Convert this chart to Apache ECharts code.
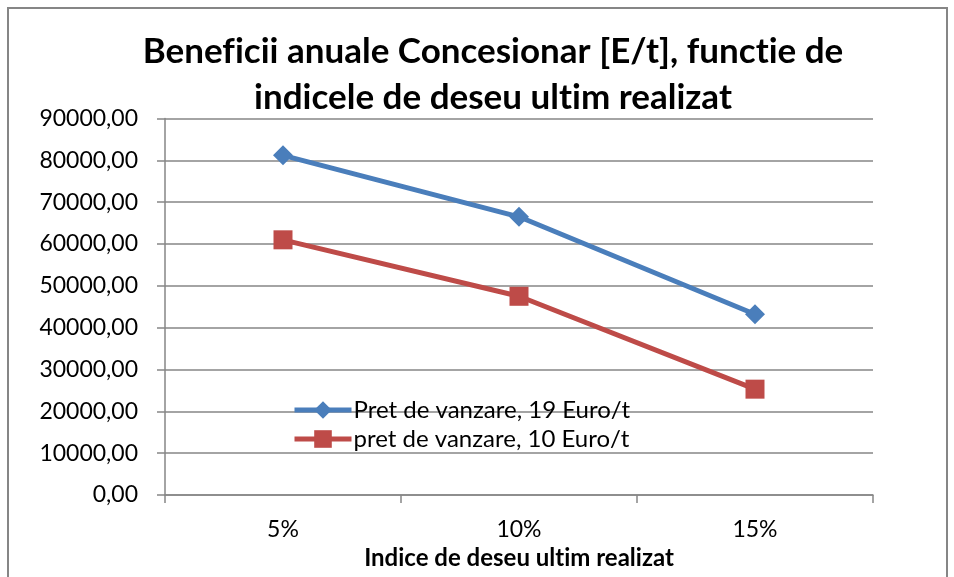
<!DOCTYPE html>
<html>
<head>
<meta charset="utf-8">
<script src="https://cdn.jsdelivr.net/npm/echarts@6/dist/echarts.min.js"></script>
<style>
  html, body { margin: 0; padding: 0; background: #ffffff; }
  #chart { width: 954px; height: 577px; }
</style>
</head>
<body>
<div id="chart"></div>
<script>
// Date
var categorii = ['5%', '10%', '15%'];
var numeSerii = ['Pret de vanzare, 19 Euro/t', 'pret de vanzare, 10 Euro/t'];
var pret19 = [81200, 66500, 43200];
var pret10 = [61000, 47500, 25300];

var FONT = 'Lato';
var GRI = '#868686';

function formatVirgula(v) {
    return v.toFixed(2).replace('.', ',');
}

var myChart = echarts.init(document.getElementById('chart'));

// \u200C evita ligaturile fi / ti din Lato
var titlu = 'Benef\u200Cicii anuale Concesionar [E/t], funct\u200Cie de\nindicele de deseu ult\u200Cim realizat';

var option = {
    animation: false,
    backgroundColor: '#ffffff',
    title: {
        text: titlu,
        left: 488,
        top: 24,
        textAlign: 'center',
        textStyle: {
            fontFamily: FONT,
            fontSize: 35,
            fontWeight: 'bold',
            color: '#000000',
            lineHeight: 46
        }
    },
    graphic: [{
        type: 'rect',
        shape: { x: 8, y: 8, width: 939, height: 620 },
        style: { fill: 'none', stroke: GRI, lineWidth: 2 },
        silent: true
    }],
    legend: {
        orient: 'vertical',
        left: 292,
        top: 398,
        padding: 0,
        itemWidth: 57,
        itemHeight: 22,
        itemGap: 5,
        lineStyle: { width: 5 },
        textStyle: { fontFamily: FONT, fontSize: 24, lineHeight: 22, color: '#000000', padding: [0, 0, 0, -3] },
        data: numeSerii
    },
    grid: {
        left: 165,
        right: 81,
        top: 118.5,
        bottom: 82,
        outerBoundsMode: 'none'
    },
    xAxis: {
        type: 'category',
        data: categorii,
        boundaryGap: true,
        name: 'Indice de deseu ult\u200Cim realizat',
        nameLocation: 'middle',
        nameGap: 49,
        nameTextStyle: { fontFamily: FONT, fontSize: 24, fontWeight: 'bold', color: '#000000' },
        axisLine: { lineStyle: { color: GRI, width: 1.5 } },
        axisTick: { show: true, length: 8, lineStyle: { color: GRI, width: 1.5 } },
        axisLabel: { fontFamily: FONT, fontSize: 23, color: '#000000', margin: 23 }
    },
    yAxis: {
        type: 'value',
        min: 0,
        max: 90000,
        interval: 10000,
        axisLine: { show: true, lineStyle: { color: GRI, width: 1.5 } },
        axisTick: { show: true, length: 8, lineStyle: { color: GRI, width: 1.5 } },
        splitLine: { lineStyle: { color: GRI, width: 1.5 } },
        axisLabel: {
            fontFamily: FONT,
            fontSize: 23,
            color: '#000000',
            margin: 27,
            formatter: formatVirgula
        }
    },
    series: [
        {
            name: numeSerii[0],
            type: 'line',
            data: pret19,
            symbol: 'diamond',
            symbolSize: 20,
            color: '#4A7EBB',
            lineStyle: { width: 5, color: '#4A7EBB' },
            itemStyle: { color: '#4A7EBB' }
        },
        {
            name: numeSerii[1],
            type: 'line',
            data: pret10,
            symbol: 'rect',
            symbolSize: 19,
            color: '#BE4B48',
            lineStyle: { width: 5, color: '#BE4B48' },
            itemStyle: { color: '#BE4B48' }
        }
    ]
};

myChart.setOption(option);
</script>
</body>
</html>
